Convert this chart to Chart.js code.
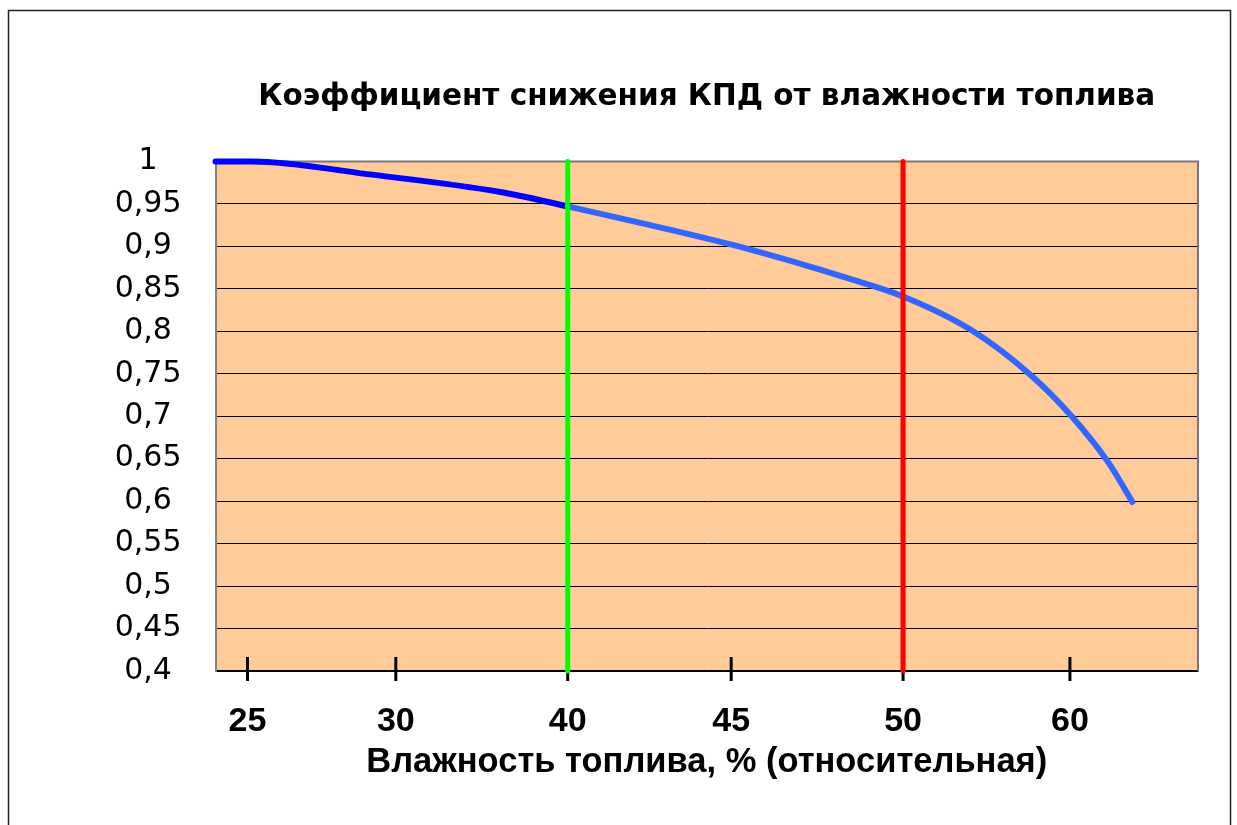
<!DOCTYPE html>
<html>
<head>
<meta charset="utf-8">
<script src="https://cdn.jsdelivr.net/npm/chart.js@4.4.0/dist/chart.umd.min.js"></script>
<style>
  body { margin: 0; background: #fff; }
  canvas { display: block; }
</style>
</head>
<body>
<canvas id="effChart" width="1237" height="825"></canvas>
<script>
// x axis is drawn in "tick slot" units: the source spaces its labels unevenly
const xTickPos = [0.12, 1, 2.02, 2.99, 4.01, 5];
const xTickLabels = ['25', '30', '40', '45', '50', '60'];
const yTickValues = [0.4, 0.45, 0.5, 0.55, 0.6, 0.65, 0.7, 0.75, 0.8, 0.85, 0.9, 0.95, 1];
const yTickLabels = ['0,4', '0,45', '0,5', '0,55', '0,6', '0,65', '0,7', '0,75', '0,8', '0,85', '0,9', '0,95', '1'];

// efficiency reduction curve
const curveX = [-0.07, 0.15, 0.83, 1.62, 2.02, 2.51, 3.05, 3.69, 4.01, 4.41, 4.77, 5.01, 5.23, 5.37];
const curveY = [1.0, 1.0, 0.985, 0.964, 0.947, 0.925, 0.899, 0.862, 0.841, 0.802, 0.748, 0.700, 0.645, 0.599];

// vertical markers at 40 % and 50 %
const lowLimitX = 2.02;
const highLimitX = 4.01;

const SANS = "'Liberation Sans', Arial, sans-serif";
const WIDE = "'DejaVu Sans', sans-serif";

const curveData = curveX.map((x, i) => ({ x: x, y: curveY[i] }));
const vline = (x) => [{ x: x, y: 0.4 }, { x: x, y: 1 }];

// plot background, frame and the little x tick marks
const decor = {
    id: 'decor',
    beforeDraw: (chart) => {
        const { ctx, chartArea: a } = chart;
        ctx.save();
        ctx.fillStyle = '#fff';
        ctx.fillRect(0, 0, chart.width, chart.height);
        ctx.strokeStyle = '#222';
        ctx.lineWidth = 1.5;
        ctx.strokeRect(8.5, 10.5, 1222, 900);
        ctx.fillStyle = '#ffcc99';
        ctx.fillRect(a.left, a.top, a.right - a.left, a.bottom - a.top);
        ctx.restore();
    },
    beforeDatasetsDraw: (chart) => {
        const { ctx, chartArea: a } = chart;
        const xs = chart.scales.x;
        ctx.save();
        ctx.strokeStyle = '#777';
        ctx.lineWidth = 2;
        ctx.beginPath();
        ctx.moveTo(a.left, a.top);
        ctx.lineTo(a.right, a.top);
        ctx.lineTo(a.right, a.bottom);
        ctx.stroke();
        ctx.strokeStyle = '#000';
        ctx.lineWidth = 3;
        xTickPos.forEach(v => {
            const px = xs.getPixelForValue(v);
            ctx.beginPath();
            ctx.moveTo(px, a.bottom - 14);
            ctx.lineTo(px, a.bottom + 10);
            ctx.stroke();
        });
        ctx.restore();
    }
};

new Chart(document.getElementById('effChart').getContext('2d'), {
    type: 'line',
    data: {
        datasets: [
            {
                data: vline(lowLimitX),
                borderColor: '#00ff00',
                borderWidth: 5,
                borderCapStyle: 'round',
                pointRadius: 0,
                clip: false
            },
            {
                data: vline(highLimitX),
                borderColor: '#ff0000',
                borderWidth: 5,
                borderCapStyle: 'round',
                pointRadius: 0,
                clip: false
            },
            {
                data: curveData,
                borderColor: '#3366ff',
                borderWidth: 6,
                borderCapStyle: 'round',
                borderJoinStyle: 'round',
                cubicInterpolationMode: 'monotone',
                pointRadius: 0,
                clip: false,
                segment: {
                    borderColor: c => c.p1.parsed.x <= lowLimitX ? '#0000ff' : '#3366ff'
                }
            }
        ]
    },
    options: {
        responsive: false,
        animation: false,
        events: [],
        layout: {
            padding: { top: 40, left: 115.5, right: 39, bottom: 0 }
        },
        plugins: {
            legend: { display: false },
            tooltip: { enabled: false },
            title: {
                display: true,
                fullSize: false,
                text: 'Коэффициент снижения КПД от влажности топлива',
                color: '#000',
                font: { family: WIDE, size: 29.5, weight: 'bold' },
                padding: { top: 40, bottom: 46 }
            }
        },
        scales: {
            x: {
                type: 'linear',
                min: -0.07,
                max: 5.76,
                afterBuildTicks: axis => { axis.ticks = xTickPos.map(v => ({ value: v })); },
                afterFit: scale => { scale.height = 154; },
                ticks: {
                    callback: (v, i) => xTickLabels[i],
                    autoSkip: false,
                    maxRotation: 0,
                    color: '#000',
                    padding: 30,
                    font: { family: SANS, size: 34, weight: 'bold' }
                },
                grid: { display: true, drawOnChartArea: false, drawTicks: false },
                border: { display: true, color: '#000', width: 1.5 },
                title: {
                    display: true,
                    text: 'Влажность топлива, % (относительная)',
                    color: '#000',
                    font: { family: SANS, size: 34.5, weight: 'bold' },
                    padding: { top: 0, bottom: 42.3 }
                }
            },
            y: {
                min: 0.4,
                max: 1,
                afterBuildTicks: axis => { axis.ticks = yTickValues.map(v => ({ value: v })); },
                afterFit: scale => { scale.width = 100; },
                ticks: {
                    callback: (v, i) => yTickLabels[i],
                    autoSkip: false,
                    crossAlign: 'center',
                    color: '#000',
                    padding: 34,
                    font: { family: WIDE, size: 30 }
                },
                grid: { color: '#000', lineWidth: 1, drawTicks: false },
                border: { display: true, color: '#808080', width: 2 }
            }
        }
    },
    plugins: [decor]
});
</script>
</body>
</html>
